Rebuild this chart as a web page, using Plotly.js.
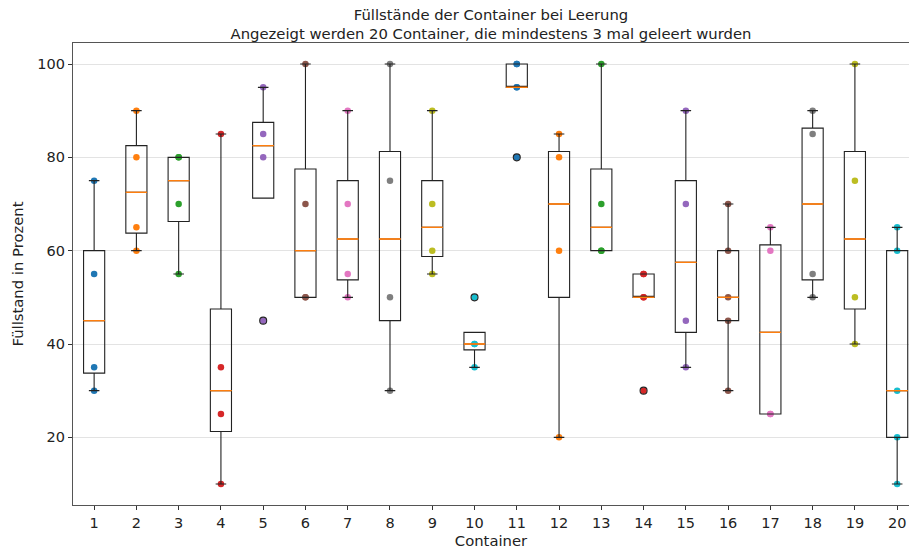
<!DOCTYPE html>
<html><head><meta charset="utf-8">
<script src="https://cdn.plot.ly/plotly-3.0.1.min.js"></script>
<style>body{margin:0;background:#fff}</style>
</head><body><div id="chart" style="width:909px;height:549px"></div>
<script>
const containers = [1,2,3,4,5,6,7,8,9,10,11,12,13,14,15,16,17,18,19,20];
const fuellstaende = [
  [75, 55, 35, 30],
  [90, 80, 65, 60],
  [80, 80, 70, 55],
  [85, 35, 25, 10],
  [95, 85, 80, 45],
  [100, 70, 50, 50],
  [90, 70, 55, 50],
  [100, 75, 50, 30],
  [90, 70, 60, 55],
  [50, 40, 40, 35],
  [100, 100, 95, 95, 80],
  [85, 80, 60, 20],
  [100, 70, 60, 60],
  [55, 55, 50, 50, 30],
  [90, 70, 45, 35],
  [70, 60, 50, 45, 30],
  [65, 60, 25, 25],
  [90, 85, 55, 50],
  [100, 75, 50, 40],
  [65, 60, 30, 20, 10]
];
const tab10 = ['#1f77b4','#ff7f0e','#2ca02c','#d62728','#9467bd','#8c564b','#e377c2','#7f7f7f','#bcbd22','#17becf'];
const tickLabels = containers.map(String);

function quant(s, p){
  const pos = p*(s.length-1), lo = Math.floor(pos), fr = pos-lo;
  return lo+1 < s.length ? s[lo] + fr*(s[lo+1]-s[lo]) : s[lo];
}
function stats(v){
  const s = v.slice().sort((a,b)=>a-b);
  const q1 = quant(s,0.25), med = quant(s,0.5), q3 = quant(s,0.75);
  const iqr = q3-q1, lov = q1-1.5*iqr, hiv = q3+1.5*iqr;
  const inHi = s.filter(x=>x<=hiv), inLo = s.filter(x=>x>=lov);
  let wh = inHi.length ? Math.max(...inHi) : q3; if (wh < q3) wh = q3;
  let wl = inLo.length ? Math.min(...inLo) : q1; if (wl > q1) wl = q1;
  const fl = s.filter(x=>x<lov || x>hiv);
  return {q1, med, q3, wl, wh, fl};
}
const st = fuellstaende.map(stats);

const px=[], py=[], pc=[];
fuellstaende.forEach((vals,i)=>vals.forEach(v=>{px.push(containers[i]); py.push(v); pc.push(tab10[i%10]);}));
const fx=[], fy=[];
st.forEach((s,i)=>s.fl.forEach(v=>{fx.push(containers[i]); fy.push(v);}));

const traces = [
  {type:'scatter', mode:'markers', x:px, y:py, xaxis:'x', yaxis:'y',
   marker:{color:pc, size:6.5}, hoverinfo:'y', showlegend:false},
  {type:'box', x:containers, xaxis:'x2', yaxis:'y',
   q1:st.map(s=>s.q1), median:st.map(s=>s.med), q3:st.map(s=>s.q3),
   lowerfence:st.map(s=>s.wl), upperfence:st.map(s=>s.wh),
   width:0.5, whiskerwidth:0.5, fillcolor:'rgba(0,0,0,0)',
   line:{color:'#222', width:1.1}, showlegend:false, hoverinfo:'skip'},
  {type:'box', x:containers, xaxis:'x2', yaxis:'y',
   q1:st.map(s=>s.med), median:st.map(s=>s.med), q3:st.map(s=>s.med),
   lowerfence:st.map(s=>s.med), upperfence:st.map(s=>s.med),
   width:0.5, whiskerwidth:0, fillcolor:'rgba(0,0,0,0)',
   line:{color:'#ff7f0e', width:1}, showlegend:false, hoverinfo:'skip'},
  {type:'scatter', mode:'markers', x:fx, y:fy, xaxis:'x2', yaxis:'y',
   marker:{symbol:'circle-open', color:'#222', size:7, line:{width:1.1, color:'#222'}},
   showlegend:false, hoverinfo:'skip'}
];
const fnt = {family:'DejaVu Sans, sans-serif', size:14.5, color:'#222'};
const tfnt = {family:'DejaVu Sans, sans-serif', size:14.8, color:'#222'};
const xr = [0.5, 20.28];
const layout = {
  width:909, height:549, margin:{l:73, r:0, t:43, b:44},
  paper_bgcolor:'#fff', plot_bgcolor:'#fff', font:fnt, showlegend:false,
  boxmode:'overlay',
  title:{text:'Füllstände der Container bei Leerung<br>Angezeigt werden 20 Container, die mindestens 3 mal geleert wurden',
         font:tfnt, x:0.5, xref:'paper', xanchor:'center', y:1-20/549, yref:'container', yanchor:'middle'},
  xaxis:{range:xr, tickmode:'array', tickvals:containers, ticktext:tickLabels,
         showgrid:false, zeroline:false, showline:true, mirror:true, linecolor:'#555', linewidth:1.2,
         ticks:'outside', ticklen:4, tickcolor:'#333', tickfont:fnt,
         title:{text:'Container', font:tfnt, standoff:6}},
  xaxis2:{range:xr, overlaying:'x', visible:false},
  yaxis:{range:[5.5,104.5], tickvals:[20,40,60,80,100], showgrid:true, gridcolor:'#e3e3e3', gridwidth:1,
         zeroline:false, showline:true, linecolor:'#555', linewidth:1.2,
         ticks:'outside', ticklen:4, tickcolor:'#333', tickfont:fnt,
         title:{text:'Füllstand in Prozent', font:tfnt, standoff:10}}
};
Plotly.newPlot('chart', traces, layout, {displayModeBar:false, staticPlot:true});
</script></body></html>
